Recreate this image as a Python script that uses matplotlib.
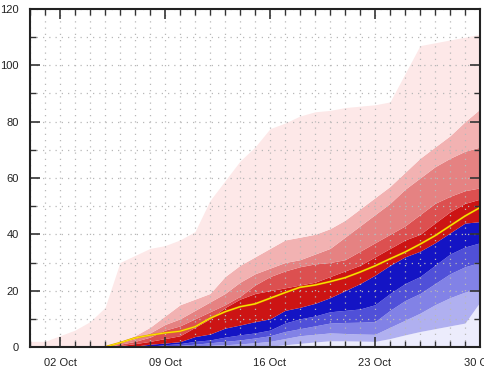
import numpy as np
import pandas as pd
import matplotlib
matplotlib.use("Agg")
import matplotlib.pyplot as plt
import matplotlib.dates as mdates
from matplotlib.ticker import MultipleLocator

# one value per day, 30 Sep .. 30 Oct
days = pd.date_range("2020-09-30", "2020-10-30", freq="D")
tick_days = pd.to_datetime(["2020-10-02", "2020-10-09", "2020-10-16", "2020-10-23", "2020-10-30"])
tick_labels = ["02 Oct", "09 Oct", "16 Oct", "23 Oct", "30 Oct"]

# quantile boundaries, top of the fan down to the bottom
top = [2, 2, 4, 6, 9, 14, 30, 32.5, 35, 36, 38, 41, 52, 59, 66, 71, 77.5, 79.5, 82, 83.5,
       84, 85, 85.5, 86, 87, 97, 107, 108, 109, 110, 111]
u4 = [0, 0, 0, 0, 0, 0.5, 2, 4, 7, 11, 15, 17, 19, 25, 29, 32, 35, 38, 39, 40,
      42, 45, 49, 53, 57, 62, 67, 71, 75, 80, 84.5]
u3 = [0, 0, 0, 0, 0, 0, 1.5, 3, 5, 8, 10, 13, 16, 19, 23, 26, 28, 30, 31, 33,
      35, 39, 43, 47, 51, 56, 60, 64, 67, 69.5, 71]
u2 = [0, 0, 0, 0, 0, 0, 1, 2, 3.5, 6, 7.5, 10, 12.5, 15, 18, 22, 25, 27, 28.5, 29.5,
      30, 31, 34, 37, 40, 43, 47, 51, 53.5, 55.5, 56.5]
u1 = [0, 0, 0, 0, 0, 0, 0.5, 1.2, 2, 3, 4, 7, 10, 14, 17, 19, 20, 21, 22, 23,
      25, 27, 29, 32, 35, 38, 40, 44, 48, 51, 52.5]
median = [0, 0, 0, 0, 0, 0, 0, 0.3, 1, 1.4, 1.9, 3.7, 4.6, 6.7, 7.8, 9, 10, 13, 14.1, 15.5,
          17.5, 20, 22.5, 25.5, 29, 32, 34, 37, 40.5, 44, 44.5]
l1 = [0, 0, 0, 0, 0, 0, 0, 0, 0.3, 0.8, 1.2, 2, 2.5, 3.5, 4.3, 5, 6, 8.5, 10, 11,
      12.5, 13, 13.5, 15, 19, 22.5, 25, 29, 33, 35.5, 37]
l2 = [0, 0, 0, 0, 0, 0, 0, 0, 0, 0.3, 0.6, 1, 1.5, 2, 2.5, 3.2, 4, 5.5, 6.5, 7.5,
      8.5, 8.7, 8.8, 9, 13, 16.5, 19, 22.5, 26, 28.5, 30]
l3 = [0, 0, 0, 0, 0, 0, 0, 0, 0, 0, 0.2, 0.4, 0.6, 0.8, 1.1, 1.5, 2, 3, 4, 4.5,
      5, 4.8, 4.6, 4.5, 7, 9.5, 12, 15, 17.5, 19.5, 20.2]
l4 = [0, 0, 0, 0, 0, 0, 0, 0, 0, 0, 0, 0, 0, 0, 0, 0, 0.3, 0.8, 1.3, 1.8,
      2.2, 2.2, 2.1, 2, 3, 4.3, 5.5, 6.5, 7.5, 8.5, 16]
mean = [0, 0, 0, 0, 0, 0, 1.5, 3.2, 4.2, 5, 5.6, 7.2, 10.2, 12.5, 14.3, 15.3, 17.3, 19.3, 21.2, 22,
        23.2, 24.6, 26.6, 28.8, 31.3, 33.7, 36.5, 39.5, 43, 46.5, 49.5]

bounds = [np.zeros(len(days)), l4, l3, l2, l1, median, u1, u2, u3, u4, top]
band_colors = ["#ececfc", "#b0b0f0", "#8282e6", "#5050d8", "#1414c4",
               "#cc1414", "#dc5050", "#e58282", "#f2b2b2", "#fde8e8"]

fig = plt.figure(figsize=(4.85, 3.73), dpi=100)
ax = fig.add_axes([30 / 485, 26 / 373, 450 / 485, 338 / 373])

for lo, hi, c in zip(bounds[:-1], bounds[1:], band_colors):
    ax.fill_between(days, lo, hi, color=c, lw=0, zorder=1)

ax.plot(days, mean, color="#e0a000", lw=1.4, zorder=3)
ax.plot(days, mean, color="#ffea00", lw=0.7, zorder=4)

ax.set_xlim(days[0], days[-1])
ax.set_ylim(0, 120)

ax.set_xticks(tick_days)
ax.set_xticklabels(tick_labels)
ax.xaxis.set_minor_locator(mdates.DayLocator())
ax.yaxis.set_major_locator(MultipleLocator(20))
ax.yaxis.set_minor_locator(MultipleLocator(10))

ax.grid(True, which="both", color="#b8b8b8", linestyle=(0, (1, 4)), lw=0.9, zorder=5)
ax.set_axisbelow(False)

ax.tick_params(which="both", direction="in", top=True, right=True,
               labelsize=8, labelcolor="#222222", color="#333333")
ax.tick_params(which="major", length=7, width=1.2, pad=8)
ax.tick_params(which="minor", length=4, width=1.0)
for lab in ax.get_xticklabels() + ax.get_yticklabels():
    lab.set_fontfamily("Liberation Sans")

for s in ax.spines.values():
    s.set_color("#222222")
    s.set_linewidth(1.5)
    s.set_zorder(6)

fig.savefig("out.png", dpi=100)
